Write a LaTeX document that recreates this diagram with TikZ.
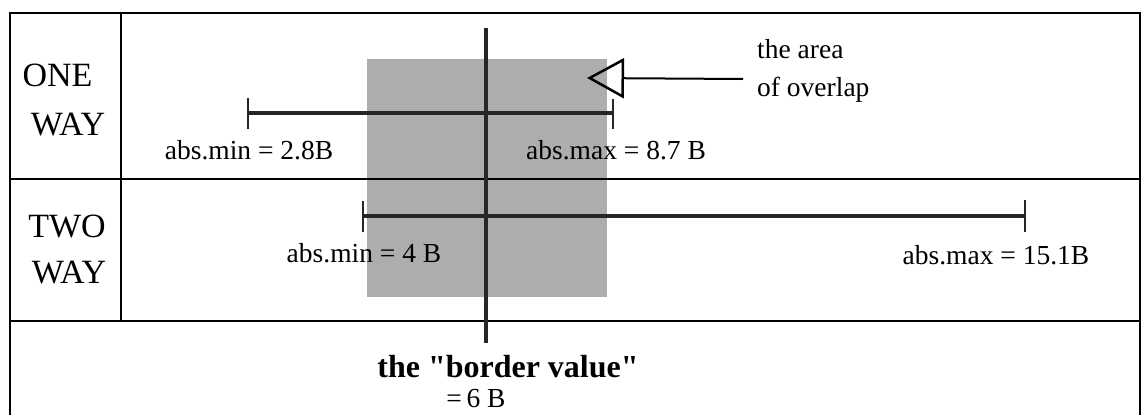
\documentclass[tikz,border=0pt]{standalone}
\usepackage{fontspec}
\setmainfont{Liberation Serif}[Ligatures=TeXOff]
\usetikzlibrary{arrows.meta}
\begin{document}
\begin{tikzpicture}[x=1pt,y=-1pt,
  frame/.style={line width=2pt,black},
  barline/.style={line width=3.6pt,black!85},
  tickline/.style={line width=2.4pt,black!85},
  rowlabel/.style={font=\fontsize{34}{38}\selectfont,inner sep=0pt},
  vallabel/.style={font=\fontsize{27.5}{30}\selectfont,inner sep=0pt},
  overlap/.style={fill=black!32,draw=none}]
\useasboundingbox (0,0) rectangle (1143,415);
% overlap area
\fill[overlap] (367,59) rectangle (607,297);
% table frame
\draw[frame] (10,415) -- (10,13) -- (1140,13) -- (1140,415);
\draw[frame] (10,179) -- (1140,179);
\draw[frame] (10,321) -- (1140,321);
\draw[frame] (121,13) -- (121,321);
% row labels
\node[rowlabel] (one) at (57.5,75) {ONE};
\node[rowlabel] (way1) at (68,125) {WAY};
\node[rowlabel] (two) at (67,226) {TWO};
\node[rowlabel] (way2) at (69,273) {WAY};
% border value line
\coordinate (bvtop) at (486,28);
\coordinate (bvbot) at (486,343);
\draw[line width=4.5pt,black!85] (bvtop) -- (bvbot);
% one way bar
\coordinate (om1) at (248,113);
\coordinate (om2) at (613,113);
\draw[barline] (om1) -- (om2);
\draw[tickline] ([yshift=15pt]om1) -- ([yshift=-16pt]om1);
\draw[tickline] ([yshift=14pt]om2) -- ([yshift=-16pt]om2);
\node[vallabel] (omin) at (249,150) {abs.min = 2.8B};
\node[vallabel] (omax) at (616,150) {abs.max = 8.7 B};
% two way bar
\coordinate (tm1) at (363,216);
\coordinate (tm2) at (1025,216);
\draw[barline] (tm1) -- (tm2);
\draw[tickline] ([yshift=15pt]tm1) -- ([yshift=-16pt]tm1);
\draw[tickline] ([yshift=16pt]tm2) -- ([yshift=-16pt]tm2);
\node[vallabel] (tmin) at (364,253) {abs.min = 4 B};
\node[vallabel] (tmax) at (996,255) {abs.max = 15.1B};
% area of overlap pointer
\node[vallabel,anchor=west] (area1) at (757,49) {the area};
\node[vallabel,anchor=west] (area2) at (757,90) {of overlap};
\coordinate (arrstart) at (743,79);
\coordinate (arrtip) at (587,78);
\draw[line width=2pt,-{Triangle[open,length=37pt,width=40pt,line width=2.5pt]}] (arrstart) -- (arrtip);
% border value label
\node[font=\bfseries\fontsize{32}{35}\selectfont,inner sep=0pt] (bv) at (508,367) {the "border value"};
\node[vallabel] (bvval) at (476,399) {=\,6 B};
\end{tikzpicture}
\end{document}
